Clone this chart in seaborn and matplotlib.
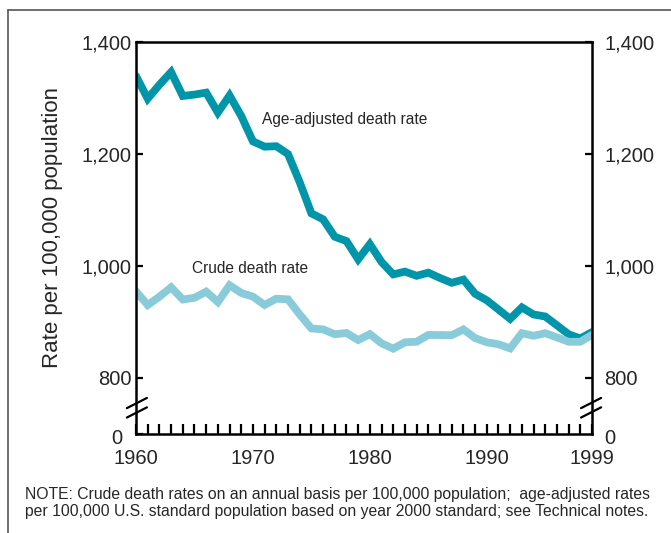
import matplotlib
matplotlib.use("Agg")
import matplotlib.pyplot as plt
import matplotlib.transforms as mtransforms
from matplotlib.lines import Line2D
import seaborn as sns
import pandas as pd

years = list(range(1960, 2000))
age_adjusted = [1339.2, 1298.8, 1323.6, 1346.3, 1303.6, 1306.1, 1309.6, 1274.0, 1304.5, 1268.0,
                1222.6, 1213.1, 1213.9, 1199.9, 1149.7, 1094.0, 1083.4, 1052.2, 1044.5, 1011.9,
                1039.1, 1007.1, 985.0, 990.0, 982.5, 988.1, 978.6, 970.0, 975.7, 950.5,
                938.7, 922.3, 905.6, 926.1, 913.5, 909.8, 894.1, 878.1, 870.6, 881.9]
crude = [954.7, 930.3, 945.2, 961.9, 940.2, 943.2, 954.2, 935.7, 965.7, 951.9,
         945.3, 930.4, 941.6, 940.5, 913.5, 888.5, 886.9, 878.1, 880.4, 867.8,
         878.3, 862.0, 852.4, 863.7, 864.8, 876.9, 876.7, 876.4, 886.7, 871.3,
         863.8, 860.3, 852.9, 880.0, 875.4, 880.0, 872.5, 864.7, 864.7, 877.0]
series_names = ["Age-adjusted death rate", "Crude death rate"]
y_ticks = [700, 800, 1000, 1200, 1400]
y_ticklabels = ["0", "800", "1,000", "1,200", "1,400"]
x_ticks = [1960, 1970, 1980, 1990, 1999]
note = ("NOTE: Crude death rates on an annual basis per 100,000 population;  age-adjusted rates\n"
        "per 100,000 U.S. standard population based on year 2000 standard; see Technical notes.")

df = pd.DataFrame({
    "year": years * 2,
    "rate": age_adjusted + crude,
    "series": [series_names[0]] * len(years) + [series_names[1]] * len(years),
})

sns.set_theme(style="white")
plt.rcParams["font.family"] = ["Liberation Sans", "DejaVu Sans"]

W, H = 671, 533
fig = plt.figure(figsize=(W / 100, H / 100), dpi=100)
ax = fig.add_axes([136 / W, 1 - 434 / H, (592 - 136) / W, (434 - 42) / H])

palette = {series_names[0]: "#0095a9", series_names[1]: "#8acbda"}
sns.lineplot(data=df, x="year", y="rate", hue="series", palette=palette, linewidth=5.6,
             ax=ax, legend=False, solid_joinstyle="miter")

ax.set_xlim(1960, 1999)
ax.set_ylim(700, 1400)
ax.set_xlabel("")
ax.set_ylabel("Rate per 100,000 population", fontsize=16)
ax.yaxis.set_label_coords((63 - 136) / 456, (434 - 228) / 392)

for s in ax.spines.values():
    s.set_color("black")
    s.set_linewidth(1.8)

ax.set_xticks(x_ticks)
ax.set_xticks(years, minor=True)
ax.set_xticklabels([str(x) for x in x_ticks], fontsize=14.5)
ax.tick_params(axis="x", which="both", direction="in", length=7.5, width=1.6, color="black", pad=11, bottom=True)

ax.set_yticks(y_ticks)
ax.set_yticklabels(y_ticklabels, fontsize=14.5)
ax.tick_params(axis="y", which="major", direction="in", length=5, width=1.6, color="black", pad=3, left=True)
ax.yaxis.get_major_ticks()[0].tick1line.set_visible(False)

ax2 = ax.twinx()
ax2.set_ylim(ax.get_ylim())
ax2.set_yticks(y_ticks)
ax2.set_yticklabels(y_ticklabels, fontsize=14.5)
ax2.tick_params(axis="y", direction="in", length=5, width=1.6, color="black", pad=9, right=True)
ax2.yaxis.get_major_ticks()[0].tick2line.set_visible(False)
for s in ax2.spines.values():
    s.set_visible(False)

# shift the "0" labels
lbl0 = ax.get_yticklabels()[0]
lbl0.set_transform(lbl0.get_transform() + mtransforms.ScaledTranslation(-7 / 72, -2 / 72, fig.dpi_scale_trans))
rlbl0 = ax2.get_yticklabels()[0]
rlbl0.set_transform(rlbl0.get_transform() + mtransforms.ScaledTranslation(0, -2 / 72, fig.dpi_scale_trans))

# axis break marks
def brk(xc):
    for dy in (0.0, -0.024):
        ax.add_line(Line2D([xc - 0.022, xc + 0.022], [0.066 + dy, 0.092 + dy], transform=ax.transAxes,
                           color="black", lw=1.6, clip_on=False))

brk(0.002)
brk(0.998)

ax.text(1970.8, 1261, series_names[0], fontsize=11.2, ha="left", va="center")
ax.text(1964.8, 996, series_names[1], fontsize=11.2, ha="left", va="center")

fig.text(25 / W, 1 - 503 / H, note, fontsize=11.3, ha="left", va="center", linespacing=1.1)

# frame lines
fig.add_artist(Line2D([8 / W, 1], [1 - 10 / H, 1 - 10 / H], transform=fig.transFigure, color="#555555", lw=1.2))
fig.add_artist(Line2D([8 / W, 8 / W], [0, 1 - 10 / H], transform=fig.transFigure, color="#555555", lw=1.2))

fig.savefig("out.png", dpi=100)
